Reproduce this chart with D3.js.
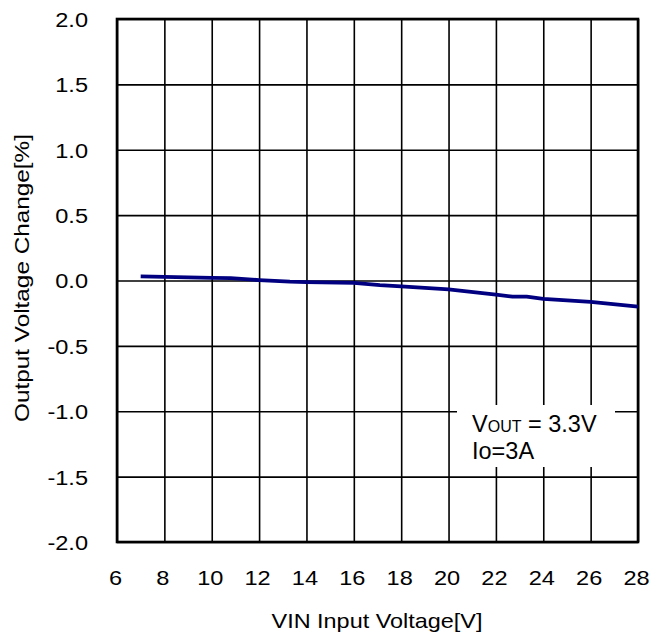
<!DOCTYPE html>
<html>
<head>
<meta charset="utf-8">
<script src="https://cdn.jsdelivr.net/npm/d3@7"></script>
<style>
  html, body { margin: 0; padding: 0; background: #fff; }
  svg { display: block; font-family: "Liberation Sans", Arial, sans-serif; }
</style>
</head>
<body>
<svg id="chart" width="650" height="640"></svg>
<script>
// Data
const vin = [7, 8, 10, 10.8, 12, 13.3, 14, 16, 17.1, 18, 20, 22, 22.7, 23.3, 24, 26, 28];
const change = [0.032, 0.028, 0.02, 0.018, 0.003, -0.009, -0.012, -0.018, -0.035, -0.045, -0.068, -0.108, -0.124, -0.124, -0.14, -0.163, -0.2];
const xTicks = [6, 8, 10, 12, 14, 16, 18, 20, 22, 24, 26, 28];
const yTicks = [-2.0, -1.5, -1.0, -0.5, 0.0, 0.5, 1.0, 1.5, 2.0];
const xTitle = "VIN Input Voltage[V]";
const yTitle = "Output Voltage Change[%]";
const noteLine2 = "Io=3A";

const FONT = '"Liberation Sans", Arial, sans-serif';
const svg = d3.select("#chart");
const L = 117, R = 638, T = 19, B = 542;
const x = d3.scaleLinear().domain([6, 28]).range([L, R]);
const y = d3.scaleLinear().domain([-2, 2]).range([B, T]);
const sx = 1.15;

// Y axis with gridlines
const yAxis = svg.append("g").attr("transform", `translate(${L},0)`)
  .call(d3.axisLeft(y).tickValues(yTicks).tickSize(-(R - L)).tickPadding(0).tickFormat(d3.format(".1f")))
  .attr("font-family", FONT);
yAxis.select(".domain").remove();
yAxis.selectAll(".tick line").attr("stroke", "#000").attr("stroke-width", 1.6);
yAxis.selectAll(".tick text")
  .attr("x", -29 / sx).attr("dy", "0.36em")
  .attr("transform", `scale(${sx},1)`)
  .attr("font-size", 20.5).attr("fill", "#000").attr("text-anchor", "end")
  .text(d => d3.format(".1f")(d).replace("−", "-"));

// X axis with gridlines
const xAxis = svg.append("g").attr("transform", `translate(0,${B})`)
  .call(d3.axisBottom(x).tickValues(xTicks).tickSize(-(B - T)).tickPadding(0).tickFormat(d3.format("d")))
  .attr("font-family", FONT);
xAxis.select(".domain").remove();
xAxis.selectAll(".tick line").attr("stroke", "#000").attr("stroke-width", 1.6);
xAxis.selectAll(".tick text")
  .attr("x", -2 / sx).attr("y", 43).attr("dy", 0)
  .attr("transform", `scale(${sx},1)`)
  .attr("font-size", 20.5).attr("fill", "#000").attr("text-anchor", "middle");

// Border
svg.append("rect").attr("x", L).attr("y", T).attr("width", R - L).attr("height", B - T)
  .attr("fill", "none").attr("stroke", "#000").attr("stroke-width", 2.6);

// Annotation box
svg.append("rect").attr("x", 457).attr("y", 405).attr("width", 158).attr("height", 62).attr("fill", "#fff");
const t1 = svg.append("text").attr("x", 472).attr("y", 432).attr("font-size", 23.5).attr("fill", "#000");
t1.append("tspan").text("V");
t1.append("tspan").attr("font-size", 16).text("OUT");
t1.append("tspan").text(" = 3.3V");
svg.append("text").attr("x", 472).attr("y", 459).attr("font-size", 23.5).attr("fill", "#000").text(noteLine2);

// Data line
const line = d3.line().x((d, i) => x(vin[i])).y(d => y(d));
svg.append("path").datum(change).attr("d", line)
  .attr("fill", "none").attr("stroke", "#000080").attr("stroke-width", 3.8).attr("stroke-linejoin", "round");

// Axis titles
svg.append("text").attr("x", 377).attr("y", 628).attr("text-anchor", "middle")
  .attr("font-size", 21).attr("fill", "#000")
  .attr("textLength", 211).attr("lengthAdjust", "spacingAndGlyphs").text(xTitle);
svg.append("text").attr("transform", "translate(29,278) rotate(-90)").attr("text-anchor", "middle")
  .attr("font-size", 21).attr("fill", "#000")
  .attr("textLength", 288).attr("lengthAdjust", "spacingAndGlyphs").text(yTitle);
</script>
</body>
</html>
